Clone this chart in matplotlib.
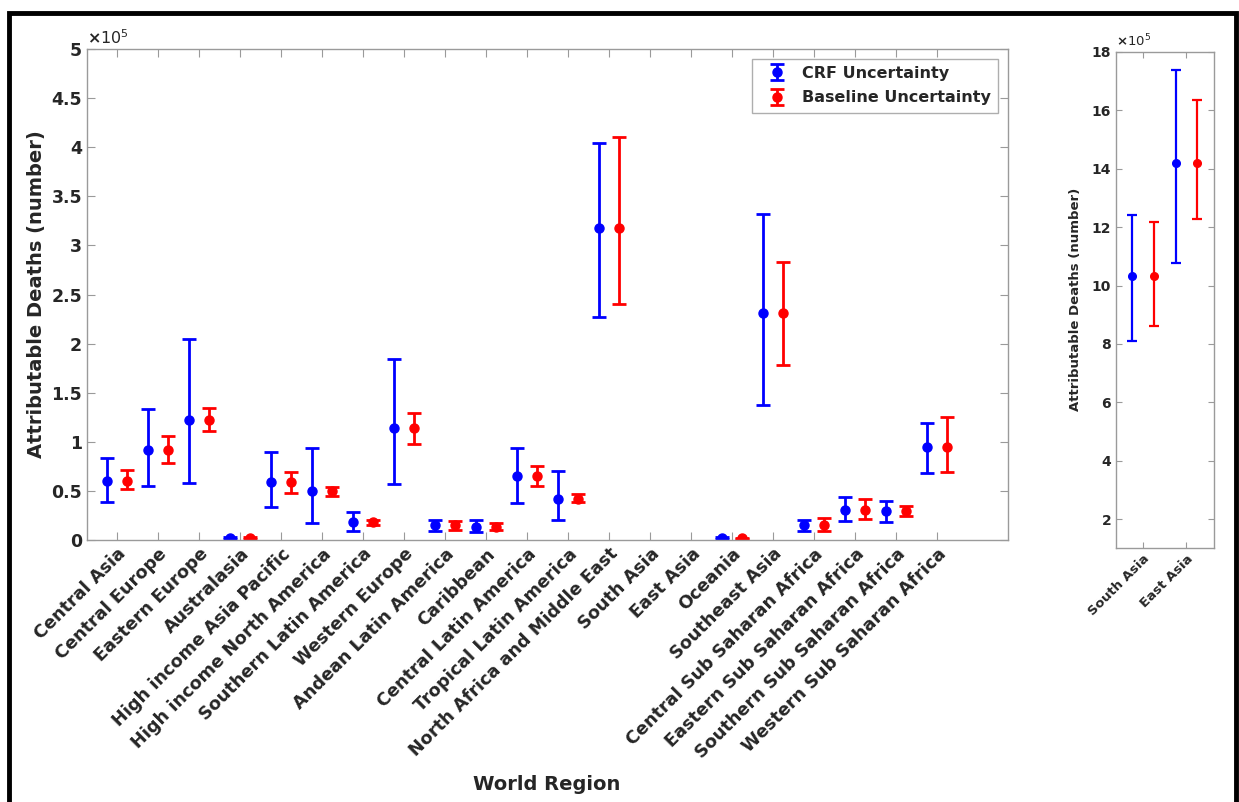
import numpy as np
import matplotlib
matplotlib.use("Agg")
from matplotlib import pyplot as plt
from matplotlib.patches import Rectangle

plt.rcParams['font.family'] = ['DejaVu Sans']
plt.rcParams['font.weight'] = 'bold'

# values in units of 1e5 deaths
regions = ["Central Asia", "Central Europe", "Eastern Europe", "Australasia",
           "High income Asia Pacific", "High income North America",
           "Southern Latin America", "Western Europe", "Andean Latin America",
           "Caribbean", "Central Latin America", "Tropical Latin America",
           "North Africa and Middle East", "South Asia", "East Asia", "Oceania",
           "Southeast Asia", "Central Sub Saharan Africa", "Eastern Sub Saharan Africa",
           "Southern Sub Saharan Africa", "Western Sub Saharan Africa"]
nan = np.nan
central = [0.604, 0.917, 1.225, 0.02, 0.594, 0.50, 0.18, 1.144, 0.148, 0.136,
           0.652, 0.422, 3.18, nan, nan, 0.018, 2.308, 0.148, 0.309, 0.297, 0.944]
crf_low = [0.387, 0.55, 0.577, 0.01, 0.336, 0.173, 0.095, 0.567, 0.092, 0.078,
           0.377, 0.204, 2.268, nan, nan, 0.01, 1.375, 0.092, 0.197, 0.18, 0.682]
crf_high = [0.835, 1.337, 2.044, 0.03, 0.899, 0.934, 0.282, 1.846, 0.207, 0.207,
            0.937, 0.699, 4.043, nan, nan, 0.026, 3.323, 0.207, 0.438, 0.397, 1.195]
base_low = [0.516, 0.787, 1.113, 0.014, 0.482, 0.448, 0.15, 0.974, 0.102, 0.102,
            0.55, 0.387, 2.403, nan, nan, 0.012, 1.779, 0.095, 0.217, 0.244, 0.689]
base_high = [0.713, 1.056, 1.347, 0.026, 0.689, 0.536, 0.207, 1.29, 0.197, 0.173,
             0.754, 0.465, 4.1, nan, nan, 0.024, 2.831, 0.221, 0.418, 0.35, 1.249]

asia = ["South Asia", "East Asia"]
asia_central = [10.34, 14.18]
asia_crf_low = [8.09, 10.77]
asia_crf_high = [12.4, 17.37]
asia_base_low = [8.6, 12.26]
asia_base_high = [12.19, 16.36]

txt = '#262626'
spine = '#9a9a9a'

fig = plt.figure(figsize=(12.39, 8.02), dpi=100)
fig.patches.append(Rectangle((9/1239, -0.01), 1227/1239, 1 - 13/802 + 0.01,
                             transform=fig.transFigure, fill=False,
                             edgecolor='black', linewidth=3.5))


def style(ax):
    for s in ax.spines.values():
        s.set_color(spine)
        s.set_linewidth(1.0)
    ax.tick_params(direction='in', top=True, right=True, length=6,
                   color=spine, labelcolor=txt, width=0.8)


def draw(ax, n, cen, lo1, hi1, lo2, hi2, cap, ms, lw):
    x = np.arange(1, n + 1)
    cen = np.array(cen)
    e1 = [cen - np.array(lo1), np.array(hi1) - cen]
    e2 = [cen - np.array(lo2), np.array(hi2) - cen]
    h1 = ax.errorbar(x - 0.25, cen, yerr=e1, fmt='o', color='#0000ff',
                     ms=ms, capsize=cap, elinewidth=lw, capthick=lw,
                     label='CRF Uncertainty')
    h2 = ax.errorbar(x + 0.25, cen, yerr=e2, fmt='o', color='#ff0000',
                     ms=ms, capsize=cap, elinewidth=lw, capthick=lw,
                     label='Baseline Uncertainty')
    return h1, h2


# main panel
ax = fig.add_axes([87/1239, 1 - 540/802, 921/1239, 491/802])
h1, h2 = draw(ax, len(regions), central, crf_low, crf_high, base_low, base_high,
              4.8, 6.5, 2.0)
ax.set_xlim(0.27, len(regions) + 1.73)
ax.set_ylim(0, 5)
ax.set_xticks(np.arange(1, len(regions) + 1))
ax.set_xticklabels(regions, rotation=45, ha='right', rotation_mode='anchor',
                   fontsize=12.7, fontweight='bold')
yt = np.arange(0, 5.01, 0.5)
ax.set_yticks(yt)
ax.set_yticklabels(['%g' % v for v in yt], fontsize=12.5, fontweight='bold')
style(ax)
ax.text(0.0, 1.005, r'$\times$10$^{\mathregular{5}}$', transform=ax.transAxes,
        fontsize=11.5, color=txt, va='bottom', ha='left', fontweight='normal')
ax.set_ylabel('Attributable Deaths (number)', fontsize=14, fontweight='bold',
              color=txt, labelpad=4)
leg = ax.legend(handles=[h1, h2], loc='upper right',
                prop={'weight': 'bold', 'size': 11.5}, frameon=True,
                fancybox=False, edgecolor=spine, handlelength=2.2,
                handletextpad=0.5, borderaxespad=0.6, labelspacing=0.6,
                borderpad=0.45)
leg.get_frame().set_linewidth(1.0)
for t in leg.get_texts():
    t.set_color(txt)
fig.text(547/1239, 1 - 785/802, 'World Region', ha='center', va='center',
         fontsize=14, fontweight='bold', color=txt)

# Asia panel
ax2 = fig.add_axes([1116/1239, 1 - 547.7/802, 97.7/1239, 496/802])
draw(ax2, len(asia), asia_central, asia_crf_low, asia_crf_high,
     asia_base_low, asia_base_high, 3.8, 5.5, 1.6)
ax2.set_xlim(0.37, 2.63)
ax2.set_ylim(1.03, 18)
ax2.set_xticks([1, 2])
ax2.set_xticklabels(asia, rotation=45, ha='right', rotation_mode='anchor',
                    fontsize=9.5, fontweight='bold')
yt2 = np.arange(2, 18.1, 2)
ax2.set_yticks(yt2)
ax2.set_yticklabels(['%d' % v for v in yt2], fontsize=10, fontweight='bold')
style(ax2)
ax2.tick_params(length=4)
ax2.text(0.0, 1.005, r'$\times$10$^{\mathregular{5}}$', transform=ax2.transAxes,
         fontsize=9.5, color=txt, va='bottom', ha='left', fontweight='normal')
ax2.set_ylabel('Attributable Deaths (number)', fontsize=9.5, fontweight='bold',
               color=txt, labelpad=7)

fig.savefig('out.png', dpi=100)
